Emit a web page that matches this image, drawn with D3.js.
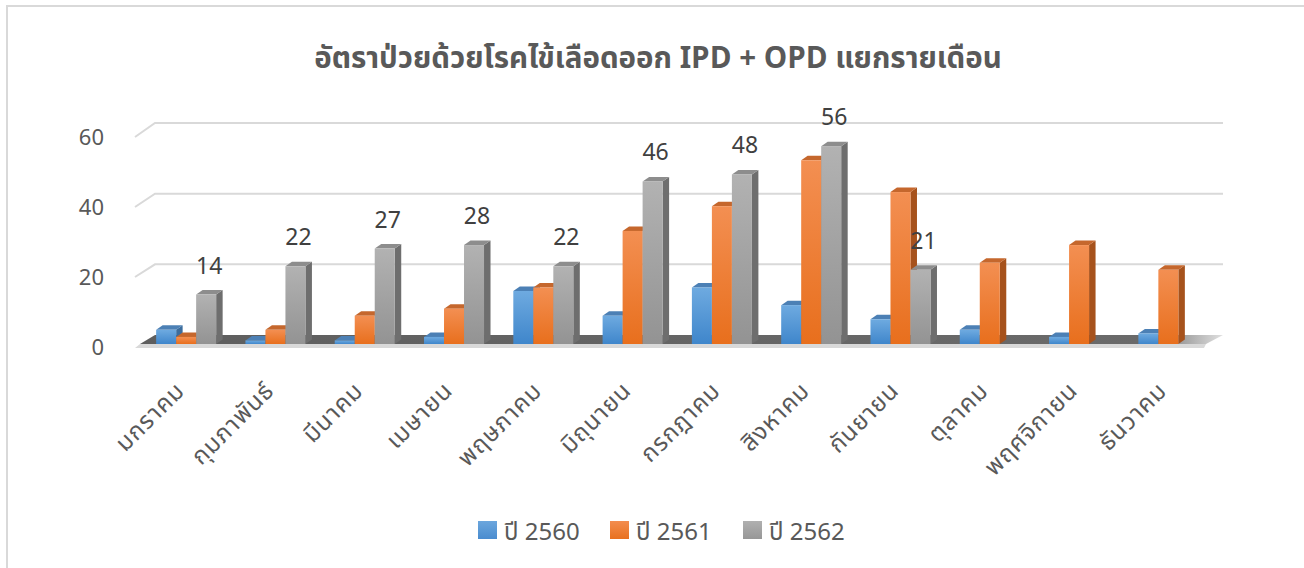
<!DOCTYPE html>
<html><head><meta charset="utf-8">
<script src="https://cdn.jsdelivr.net/npm/d3@7"></script>
<style>
html,body{margin:0;padding:0;background:#fff;}
text{font-family:"Noto Sans Thai","Leelawadee UI","Tahoma","Open Sans","Noto Sans",sans-serif;}
</style></head>
<body><svg id="c" width="1304" height="568"></svg>
<script>
const categories = ["มกราคม","กุมภาพันธ์","มีนาคม","เมษายน","พฤษภาคม","มิถุนายน","กรกฎาคม","สิงหาคม","กันยายน","ตุลาคม","พฤศจิกายน","ธันวาคม"];
const seriesNames = ["ปี 2560","ปี 2561","ปี 2562"];
const y2560 = [4,1,1,2,15,8,16,11,7,4,2,3];
const y2561 = [2,4,8,10,16,32,39,52,43,23,28,21];
const y2562 = [14,22,27,28,22,46,48,56,21,null,null,null];
const yTicks = [0,20,40,60];
const title = "อัตราป่วยด้วยโรคไข้เลือดออก IPD + OPD แยกรายเดือน";

const series = [y2560,y2561,y2562];
const colors = [
  {top:"#4c80b5", side:"#3c6d9d", f1:"#6eaae0", f2:"#3f86cb", sw1:"#6ba6dd", sw2:"#4a8ccf"},
  {top:"#c5672d", side:"#a6521c", f1:"#f38f52", f2:"#e86f1d", sw1:"#f38d4f", sw2:"#e8711f"},
  {top:"#8d8d8d", side:"#6e6e6e", f1:"#b2b2b2", f2:"#939393", sw1:"#b0b0b0", sw2:"#979797"}
];

const svg = d3.select("#c");
const defs = svg.append("defs");
colors.forEach((c,i)=>{
  const g = defs.append("linearGradient").attr("id","gf"+i).attr("x1",0).attr("y1",0).attr("x2",0).attr("y2",1);
  g.append("stop").attr("offset","0%").attr("stop-color",c.f1);
  g.append("stop").attr("offset","100%").attr("stop-color",c.f2);
  const s = defs.append("linearGradient").attr("id","gs"+i).attr("x1",0).attr("y1",0).attr("x2",0).attr("y2",1);
  s.append("stop").attr("offset","0%").attr("stop-color",c.sw1);
  s.append("stop").attr("offset","100%").attr("stop-color",c.sw2);
});
const fg = defs.append("linearGradient").attr("id","floorg").attr("x1",0).attr("y1",0).attr("x2",1).attr("y2",0);
fg.append("stop").attr("offset","0%").attr("stop-color","#5e5e5e");
fg.append("stop").attr("offset","93%").attr("stop-color","#6a6a6a");
fg.append("stop").attr("offset","100%").attr("stop-color","#e0e0e0");

// chart border
svg.append("path").attr("d","M7,568 L7,6 L1304,6").attr("fill","none").attr("stroke","#d9d9d9").attr("stroke-width",2);

// title
svg.append("text").attr("x",658).attr("y",68).attr("text-anchor","middle")
  .attr("font-size",29.5).attr("font-weight","bold").attr("fill","#595959").text(title);

// geometry
const depthX = 20, depthY = 12;
const frontX0 = 135;
const yFront = d3.scaleLinear().domain([0,60]).range([347,137]);
const yBack  = d3.scaleLinear().domain([0,60]).range([335,123]);
const yBar   = d3.scaleLinear().domain([0,60]).range([344,132]);
const x = d3.scaleBand().domain(categories).range([141.5,1213]).padding(0);
const xs = d3.scaleBand().domain([0,1,2]).range([0,60]);
const backX1 = 1223;

// gridlines (back wall + left diagonal)
const grid = svg.append("g");
yTicks.filter(t=>t>0).forEach(t=>{
  grid.append("path").attr("d",`M${frontX0},${yFront(t)} L${frontX0+depthX},${yBack(t)} L${backX1},${yBack(t)}`)
    .attr("fill","none").attr("stroke","#d9d9d9").attr("stroke-width",2);
});

// floor
svg.append("path").attr("d",`M${frontX0+depthX},${yBack(0)} L${backX1},${yBack(0)} L${1206},${yBar(0)} L${frontX0+5},${yBar(0)} Z`)
  .attr("fill","url(#floorg)");
svg.append("path").attr("d",`M${frontX0+5},${yBar(0)} L${1206},${yBar(0)} L${1204},${yFront(0)+1} L${frontX0},${yFront(0)+1} Z`)
  .attr("fill","#d9d9d9");

// y axis labels
svg.append("g").selectAll("text").data(yTicks).join("text")
  .attr("x",104).attr("y",d=>yFront(d)).attr("dy","0.35em").attr("text-anchor","end")
  .attr("font-size",22).attr("fill","#595959").text(d=>d);

// bars
const dx = 6.5, dy = 4.5, bw = xs.bandwidth();
const gBars = svg.append("g");
categories.forEach((cat,ci)=>{
  series.forEach((arr,si)=>{
    const v = arr[ci];
    if (v === null || v === undefined) return;
    const x0 = x(cat) + (x.bandwidth()-60)/2 + xs(si);
    const y0 = yBar(v), yb = yBar(0);
    const c = colors[si];
    gBars.append("path").attr("d",`M${x0+bw},${y0} L${x0+bw+dx},${y0-dy} L${x0+bw+dx},${yb-dy} L${x0+bw},${yb} Z`).attr("fill",c.side);
    gBars.append("path").attr("d",`M${x0},${y0} L${x0+dx},${y0-dy} L${x0+bw+dx},${y0-dy} L${x0+bw},${y0} Z`).attr("fill",c.top);
    gBars.append("rect").attr("x",x0).attr("y",y0).attr("width",bw).attr("height",Math.max(0,yb-y0)).attr("fill",`url(#gf${si})`);
  });
});

// data labels (ปี 2562)
svg.append("g").selectAll("text").data(categories.map((c,i)=>({c,v:y2562[i]})).filter(d=>d.v!==null)).join("text")
  .attr("x",d=>x(d.c)+(x.bandwidth()-60)/2+xs(2)+bw/2+3)
  .attr("y",d=>yBar(d.v)-21).attr("text-anchor","middle")
  .attr("font-size",23).attr("fill","#404040").text(d=>d.v);

// category labels
svg.append("g").selectAll("text").data(categories).join("text")
  .attr("transform",d=>`translate(${x(d)+x.bandwidth()/2},${392}) rotate(-45)`)
  .attr("text-anchor","end").attr("font-size",24).attr("letter-spacing",1).attr("fill","#595959").text(d=>d);

// legend
const legX = [478,610,743];
const leg = svg.append("g");
seriesNames.forEach((n,i)=>{
  leg.append("rect").attr("x",legX[i]).attr("y",521).attr("width",19).attr("height",18).attr("fill",`url(#gs${i})`);
  leg.append("text").attr("x",legX[i]+26).attr("y",540).attr("font-size",24).attr("fill","#595959").text(n);
});
</script></body></html>
